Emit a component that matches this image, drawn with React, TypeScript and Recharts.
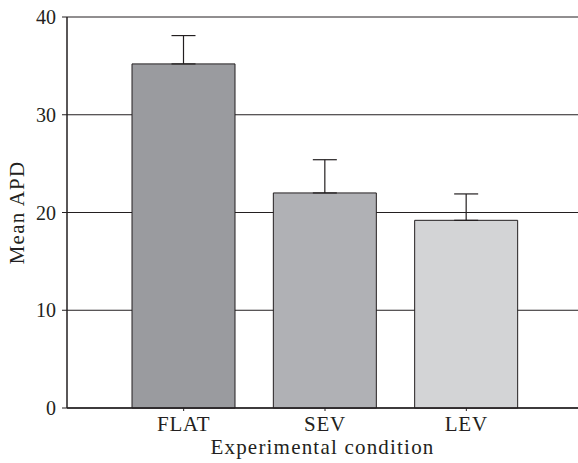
import React from 'react'
import {
  Bar,
  BarChart,
  CartesianGrid,
  Cell,
  ErrorBar,
  XAxis,
  YAxis,
} from 'recharts'

const conditions = ['FLAT', 'SEV', 'LEV']
const meanApd = [35.2, 22.0, 19.2]
const errorUp = [2.9, 3.4, 2.7]
const barColors = ['#9a9b9f', '#b0b1b5', '#d3d4d6']
const yTicks = [0, 10, 20, 30, 40]

const data = conditions.map((c, i) => ({
  condition: c,
  mean: meanApd[i],
  err: [0, errorUp[i]],
}))

const ink = '#231f20'
const font = '"Liberation Serif", "Times New Roman", serif'

export default function App() {
  return (
    <div style={{ position: 'absolute', left: 0, top: 0, background: '#fff' }}>
      <BarChart
        width={578}
        height={463}
        data={data}
        margin={{ top: 17, right: 0, left: 0, bottom: 0 }}
        barSize={103}
      >
        <CartesianGrid vertical={false} stroke={ink} strokeWidth={1} />
        <XAxis
          dataKey="condition"
          height={55}
          padding={{ left: 46, right: 41 }}
          axisLine={{ stroke: ink, strokeWidth: 1.5 }}
          tickLine={{ stroke: ink }}
          tickSize={3}
          tickMargin={5}
          tick={{ fontSize: 21, fill: ink, fontFamily: font, letterSpacing: 0.8 }}
          label={{
            value: 'Experimental condition',
            position: 'insideBottom',
            offset: 9,
            fontSize: 21,
            fill: ink,
            fontFamily: font,
            letterSpacing: 1.2,
          }}
        />
        <YAxis
          width={67}
          domain={[0, 40]}
          ticks={yTicks}
          axisLine={{ stroke: ink, strokeWidth: 1.5 }}
          tickLine={{ stroke: ink }}
          tickSize={5}
          tickMargin={6}
          tick={{ fontSize: 20, fill: ink, fontFamily: font }}
          label={{
            value: 'Mean APD',
            angle: -90,
            position: 'insideLeft',
            offset: 17,
            fontSize: 21,
            fill: ink,
            fontFamily: font,
            letterSpacing: 1.2,
            style: { textAnchor: 'middle' },
          }}
        />
        <Bar dataKey="mean" stroke={ink} strokeWidth={1} isAnimationActive={false}>
          {data.map((d, i) => (
            <Cell key={d.condition} fill={barColors[i]} />
          ))}
          <ErrorBar dataKey="err" width={12} stroke={ink} strokeWidth={1.2} direction="y" />
        </Bar>
      </BarChart>
    </div>
  )
}
